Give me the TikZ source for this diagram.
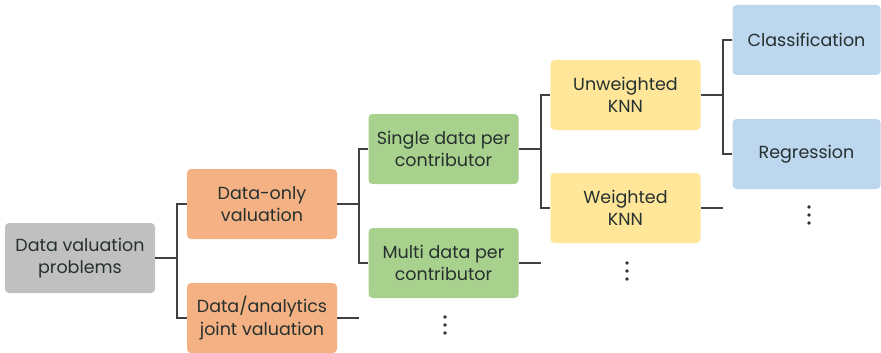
\documentclass[tikz,border=0pt]{standalone}
\usepackage{fontspec}
\setmainfont{Poppins}
\definecolor{cgray}{HTML}{C0C0C0}
\definecolor{corange}{HTML}{F4B183}
\definecolor{cgreen}{HTML}{A9D18E}
\definecolor{cyellow}{HTML}{FFE699}
\definecolor{cblue}{HTML}{BDD7EE}
\definecolor{ctext}{HTML}{26302F}
\definecolor{cline}{HTML}{404040}
\tikzset{
  box/.style={rectangle, rounded corners=4pt, minimum width=150pt, minimum height=70pt,
    inner sep=0pt, align=center, text=ctext, font=\fontsize{17.5}{22.5}\selectfont},
  conn/.style={draw=cline, line width=2.6pt},
  dotc/.style={circle, fill=ctext, inner sep=0pt, minimum size=3.6pt},
}
\begin{document}
\begin{tikzpicture}[x=1pt,y=-1pt]
\useasboundingbox (0,0) rectangle (881,353);
\node[box, fill=cgray]   (root) at (80,258)   {Data valuation\\problems};
\node[box, fill=corange] (donly) at (262,204) {Data-only\\valuation};
\node[box, fill=corange] (joint) at (262,318) {Data/analytics\\joint valuation};
\node[box, fill=cgreen]  (single) at (443.5,149) {Single data per\\contributor};
\node[box, fill=cgreen]  (multi) at (443.5,263)  {Multi data per\\contributor};
\node[box, fill=cyellow] (unw) at (625.5,95)  {Unweighted\\KNN};
\node[box, fill=cyellow] (wei) at (625.5,208) {Weighted\\KNN};
\node[box, fill=cblue, minimum width=148pt] (cls) at (806.5,40)  {Classification};
\node[box, fill=cblue, minimum width=148pt] (reg) at (806.5,154) {Regression};
% free ends
\coordinate (jend) at (359,318);
\coordinate (mend) at (541,263);
\coordinate (wend) at (723,208);
% connectors
\draw[conn] (root.east) -- (177,258);
\draw[conn] (donly.west) -| (177,258) |- (joint.west);
\draw[conn] (donly.east) -- (359,204);
\draw[conn] (single.west) -| (359,204) |- (multi.west);
\draw[conn] (joint.east) -- (jend);
\draw[conn] (single.east) -- (541,149);
\draw[conn] (unw.west) -| (541,149) |- (wei.west);
\draw[conn] (multi.east) -- (mend);
\draw[conn] (unw.east) -- (723,95);
\draw[conn] (cls.west) -| (723,95) |- (reg.west);
\draw[conn] (wei.east) -- (wend);
% vertical ellipses
\foreach \n/\x/\y in {a/445/325, b/627/271, c/809/215}{
  \node[dotc] (\n1) at (\x,\y-8) {};
  \node[dotc] (\n2) at (\x,\y) {};
  \node[dotc] (\n3) at (\x,\y+8) {};
}
\end{tikzpicture}
\end{document}
